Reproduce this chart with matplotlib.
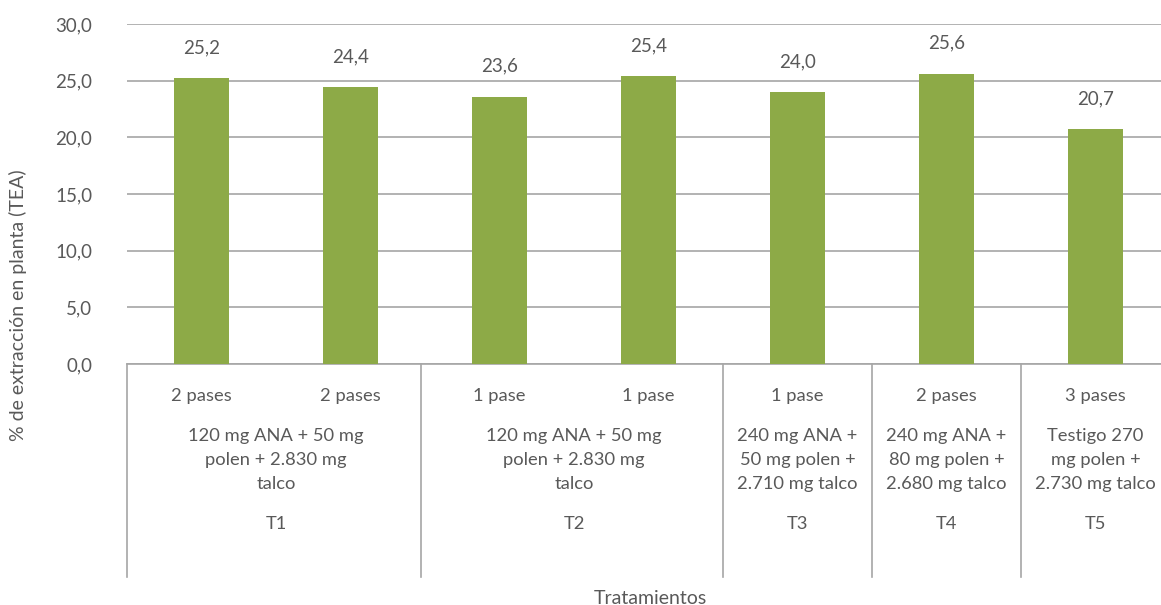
import matplotlib
matplotlib.use("Agg")
import matplotlib.pyplot as plt
from matplotlib.transforms import blended_transform_factory

plt.rcParams['font.family'] = ['Lato', 'DejaVu Sans']

# extraction percentage per treatment/pass
pases = ["2 pases", "2 pases", "1 pase", "1 pase", "1 pase", "2 pases", "3 pases"]
valores = [25.2, 24.4, 23.6, 25.4, 24.0, 25.6, 20.7]

grupos = ["T1", "T2", "T3", "T4", "T5"]
descripciones = [
    "120 mg ANA + 50 mg\npolen + 2.830 mg\ntalco",
    "120 mg ANA + 50 mg\npolen + 2.830 mg\ntalco",
    "240 mg ANA +\n50 mg polen +\n2.710 mg talco",
    "240 mg ANA +\n80 mg polen +\n2.680 mg talco",
    "Testigo 270\nmg polen +\n2.730 mg talco",
]
grupo_inicio = [0, 2, 4, 5, 6]
grupo_fin = [1, 3, 4, 5, 6]

gris = "#595959"
verde = "#8DAA47"
W, H = 1161, 605
fs = 13.2

fig = plt.figure(figsize=(W / 100, H / 100), dpi=100)
ax = fig.add_axes([127 / W, 1 - 364 / H, 1043 / W, 340 / H])

x = range(len(valores))
ax.bar(x, valores, width=0.37, color=verde, zorder=3)
ax.set_xlim(-0.5, len(valores) - 0.5)
ax.set_ylim(0, 30)
ax.set_yticks([0, 5, 10, 15, 20, 25, 30])
ax.set_yticklabels([f"{v:.1f}".replace(".", ",") for v in range(0, 31, 5)],
                   fontsize=13.5, color=gris)
ax.tick_params(axis="y", length=0, pad=25)
ax.set_xticks([])
ax.grid(axis="y", color="#A6A6A6", linewidth=1.2, zorder=0)
for s in ["top", "right", "left"]:
    ax.spines[s].set_visible(False)
ax.spines["bottom"].set_color("#A6A6A6")
ax.spines["bottom"].set_linewidth(1.2)

for i, v in enumerate(valores):
    ax.annotate(f"{v:.1f}".replace(".", ","), (i, v), xytext=(0, 22),
                textcoords="offset points", ha="center", va="center",
                fontsize=13.5, color=gris)

tr = blended_transform_factory(ax.transData, fig.transFigure)

def fy(py):
    return 1 - py / H

for i, p in enumerate(pases):
    ax.text(i, fy(396), p, transform=tr, ha="center", va="center",
            fontsize=fs, color=gris)

for g, d, a, b in zip(grupos, descripciones, grupo_inicio, grupo_fin):
    c = (a + b) / 2
    ax.text(c, fy(460), d, transform=tr, ha="center", va="center",
            fontsize=fs, color=gris, linespacing=1.58)
    ax.text(c, fy(524), g, transform=tr, ha="center", va="center",
            fontsize=fs, color=gris)

# group separators below the axis
for sx in [-0.5, 1.47, 3.5, 4.5, 5.5]:
    ax.plot([sx, sx], [fy(364), fy(577)], transform=tr, color="#A6A6A6",
            linewidth=1.2, clip_on=False)

fig.text(650 / W, fy(598), "Tratamientos", ha="center", va="center",
         fontsize=14, color=gris)
fig.text(18 / W, fy(305), "% de extracción en planta (TEA)", rotation=90,
         ha="center", va="center", fontsize=14, color=gris)

fig.savefig("out.png", dpi=100)
